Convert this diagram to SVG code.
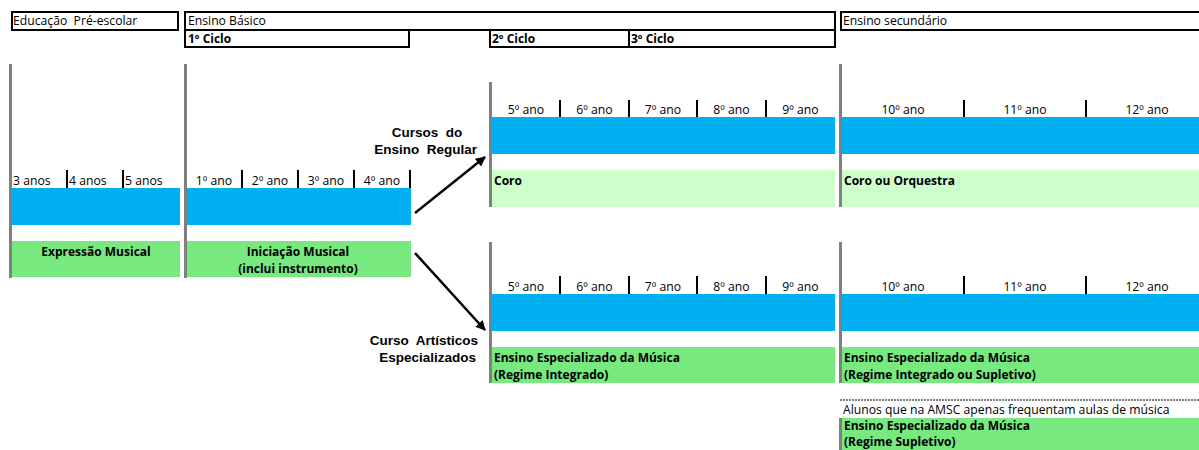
<svg xmlns="http://www.w3.org/2000/svg" width="1199" height="450" viewBox="0 0 1199 450">
<style>
.hdr{fill:#fff;stroke:#000;stroke-width:2}
.t{font-family:"Open Sans","Liberation Sans",sans-serif;font-size:12.2px;fill:#000}
.b{font-family:"Open Sans","Liberation Sans",sans-serif;font-size:12px;font-weight:bold;fill:#000}
.a{font-family:"Liberation Sans",Arial,sans-serif;font-size:13.5px;font-weight:bold;fill:#000}
.c{text-anchor:middle}
.g{stroke:#808080;stroke-width:3}
.tk{stroke:#000;stroke-width:2}
.blue{fill:#00B0F0}
.grn{fill:#77E97F}
.lg{fill:#CCFFCC}
</style>
<defs>
<marker id="ah" viewBox="0 0 10 10" refX="9" refY="5" markerWidth="4" markerHeight="4" orient="auto" markerUnits="strokeWidth">
<path d="M0,0 L10,5 L0,10 z" fill="#000"/>
</marker>
</defs>
<rect width="1199" height="450" fill="#fff"/>

<g id="hdr-pre">
<rect class="hdr" x="12" y="12" width="166" height="18"/>
<text class="t" x="13" y="25" xml:space="preserve">Educação  Pré-escolar</text>
</g>
<g id="hdr-basico">
<rect class="hdr" x="185" y="12" width="650" height="18"/>
<text class="t" x="188" y="25">Ensino Básico</text>
</g>
<g id="hdr-ciclo1">
<rect class="hdr" x="185" y="30" width="224" height="17"/>
<text class="b" x="188" y="43">1º Ciclo</text>
</g>
<g id="hdr-ciclo23">
<path d="M490,30 V47 H835 V30 M629,30 V47" fill="none" stroke="#000" stroke-width="2"/>
<text class="b" x="492" y="43">2º Ciclo</text>
<text class="b" x="631" y="43">3º Ciclo</text>
</g>
<g id="hdr-sec">
<rect class="hdr" x="841" y="12" width="370" height="18"/>
<text class="t" x="843" y="25">Ensino secundário</text>
</g>

<g id="pre">
<line class="g" x1="10.5" y1="64" x2="10.5" y2="278"/>
<line class="tk" x1="67" y1="170" x2="67" y2="188"/>
<line class="tk" x1="123" y1="170" x2="123" y2="188"/>
<text class="t" x="13" y="185">3 anos</text>
<text class="t" x="69" y="185">4 anos</text>
<text class="t" x="125" y="185">5 anos</text>
<rect class="blue" x="12" y="188" width="168" height="37"/>
<rect class="grn" x="12" y="241" width="168" height="36"/>
<text class="b c" x="96" y="256">Expressão Musical</text>
</g>

<g id="ciclo1">
<line class="g" x1="185.5" y1="64" x2="185.5" y2="278"/>
<line class="tk" x1="242" y1="170" x2="242" y2="188"/>
<line class="tk" x1="298" y1="170" x2="298" y2="188"/>
<line class="tk" x1="354" y1="170" x2="354" y2="188"/>
<line class="tk" x1="410" y1="170" x2="410" y2="188"/>
<text class="t c" x="214" y="185">1º ano</text>
<text class="t c" x="270" y="185">2º ano</text>
<text class="t c" x="326" y="185">3º ano</text>
<text class="t c" x="382" y="185">4º ano</text>
<rect class="blue" x="187" y="188" width="224" height="37"/>
<rect class="grn" x="187" y="241" width="224" height="36"/>
<text class="b c" x="298" y="256">Iniciação Musical</text>
<text class="b c" x="298" y="273">(inclui instrumento)</text>
</g>

<g id="regular-basico">
<line class="g" x1="490.5" y1="82" x2="490.5" y2="207"/>
<line class="tk" x1="560" y1="100" x2="560" y2="118"/>
<line class="tk" x1="629" y1="100" x2="629" y2="118"/>
<line class="tk" x1="697" y1="100" x2="697" y2="118"/>
<line class="tk" x1="766" y1="100" x2="766" y2="118"/>
<text class="t c" x="526" y="114">5º ano</text>
<text class="t c" x="594.5" y="114">6º ano</text>
<text class="t c" x="663" y="114">7º ano</text>
<text class="t c" x="731.5" y="114">8º ano</text>
<text class="t c" x="800.5" y="114">9º ano</text>
<rect class="blue" x="492" y="117" width="343" height="37"/>
<rect class="lg" x="492" y="170" width="343" height="37"/>
<text class="b" x="494" y="185">Coro</text>
</g>

<g id="regular-sec">
<line class="g" x1="840.5" y1="64" x2="840.5" y2="207"/>
<line class="tk" x1="964" y1="100" x2="964" y2="118"/>
<line class="tk" x1="1086" y1="100" x2="1086" y2="118"/>
<text class="t c" x="903" y="114">10º ano</text>
<text class="t c" x="1025" y="114">11º ano</text>
<text class="t c" x="1147" y="114">12º ano</text>
<rect class="blue" x="842" y="117" width="357" height="37"/>
<rect class="lg" x="842" y="170" width="357" height="37"/>
<text class="b" x="844" y="185">Coro ou Orquestra</text>
</g>

<g id="esp-basico">
<line class="g" x1="490.5" y1="242" x2="490.5" y2="383"/>
<line class="tk" x1="560" y1="276" x2="560" y2="294"/>
<line class="tk" x1="629" y1="276" x2="629" y2="294"/>
<line class="tk" x1="697" y1="276" x2="697" y2="294"/>
<line class="tk" x1="766" y1="276" x2="766" y2="294"/>
<text class="t c" x="526" y="291">5º ano</text>
<text class="t c" x="594.5" y="291">6º ano</text>
<text class="t c" x="663" y="291">7º ano</text>
<text class="t c" x="731.5" y="291">8º ano</text>
<text class="t c" x="800.5" y="291">9º ano</text>
<rect class="blue" x="492" y="294" width="343" height="37"/>
<rect class="grn" x="492" y="347" width="343" height="36"/>
<text class="b" x="494" y="362">Ensino Especializado da Música</text>
<text class="b" x="494" y="379">(Regime Integrado)</text>
</g>

<g id="esp-sec">
<line class="g" x1="840.5" y1="242" x2="840.5" y2="383"/>
<line class="tk" x1="964" y1="276" x2="964" y2="294"/>
<line class="tk" x1="1086" y1="276" x2="1086" y2="294"/>
<text class="t c" x="903" y="291">10º ano</text>
<text class="t c" x="1025" y="291">11º ano</text>
<text class="t c" x="1147" y="291">12º ano</text>
<rect class="blue" x="842" y="294" width="357" height="37"/>
<rect class="grn" x="842" y="347" width="357" height="36"/>
<text class="b" x="844" y="362">Ensino Especializado da Música</text>
<text class="b" x="844" y="379">(Regime Integrado ou Supletivo)</text>
</g>

<g id="supletivo">
<line x1="840" y1="400" x2="1199" y2="400" stroke="#000" stroke-width="1" stroke-dasharray="2,1"/>
<text class="t" x="843" y="414">Alunos que na AMSC apenas frequentam aulas de música</text>
<line class="g" x1="840.5" y1="418" x2="840.5" y2="450"/>
<rect class="grn" x="842" y="418" width="357" height="32"/>
<text class="b" x="844" y="430">Ensino Especializado da Música</text>
<text class="b" x="844" y="446">(Regime Supletivo)</text>
</g>

<g id="labels">
<text class="a" x="427" y="137" text-anchor="middle" xml:space="preserve">Cursos  do</text>
<text class="a" x="477" y="154" text-anchor="end" xml:space="preserve">Ensino  Regular</text>
<text class="a" x="478" y="345" text-anchor="end" xml:space="preserve">Curso  Artísticos</text>
<text class="a" x="476" y="362" text-anchor="end">Especializados</text>
</g>

<g id="connectors">
<line x1="415" y1="213" x2="485" y2="157" stroke="#000" stroke-width="2.5" marker-end="url(#ah)"/>
<line x1="415" y1="253" x2="485" y2="330" stroke="#000" stroke-width="2.5" marker-end="url(#ah)"/>
</g>
</svg>
